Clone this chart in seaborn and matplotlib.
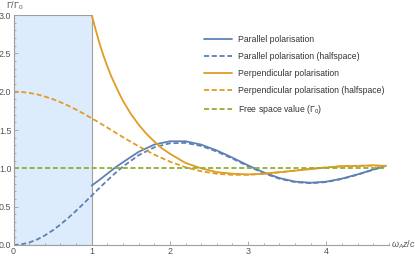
import matplotlib
matplotlib.use("Agg")
import matplotlib.pyplot as plt
import seaborn as sns
from matplotlib.patches import Rectangle
from matplotlib.ticker import MultipleLocator, FormatStrFormatter

# halfspace curves (perfect mirror)
x_half = [0.0, 0.1, 0.2, 0.3, 0.4, 0.5, 0.6, 0.7, 0.8, 0.9, 1.0, 1.1, 1.2, 1.3, 1.4,
          1.6, 1.8, 2.0, 2.2, 2.4, 2.6, 2.8, 3.0, 3.2, 3.4, 3.6, 3.8, 4.0, 4.2, 4.4,
          4.6, 4.76]
par_half = [0.000, 0.008, 0.032, 0.071, 0.124, 0.190, 0.267, 0.353, 0.446, 0.544,
            0.645, 0.745, 0.843, 0.937, 1.024, 1.171, 1.274, 1.327, 1.332, 1.292,
            1.219, 1.127, 1.028, 0.937, 0.865, 0.820, 0.806, 0.821, 0.861, 0.917,
            0.981, 1.031]
perp_half = [2.000, 1.996, 1.984, 1.965, 1.937, 1.904, 1.863, 1.817, 1.766, 1.711,
             1.653, 1.593, 1.531, 1.468, 1.406, 1.287, 1.179, 1.087, 1.014, 0.962,
             0.929, 0.915, 0.916, 0.929, 0.948, 0.971, 0.994, 1.013, 1.026, 1.034,
             1.035, 1.033]

# full curves, only outside the slab (x >= 1)
x_par = [1.0, 1.1, 1.2, 1.3, 1.4, 1.6, 1.8, 2.0, 2.2, 2.4, 2.6, 2.8, 3.0, 3.2,
         3.4, 3.6, 3.8, 4.0, 4.2, 4.4, 4.6, 4.76]
par_full = [0.775, 0.850, 0.930, 1.010, 1.080, 1.215, 1.310, 1.353, 1.353, 1.309,
            1.233, 1.139, 1.038, 0.946, 0.873, 0.827, 0.812, 0.826, 0.866, 0.921,
            0.985, 1.034]
x_perp = [1.0, 1.05, 1.1, 1.15, 1.2, 1.25, 1.3, 1.35, 1.4, 1.5, 1.6, 1.7, 1.8, 1.9,
          2.0, 2.2, 2.4, 2.6, 2.8, 3.0, 3.2, 3.4, 3.6, 3.8, 4.0, 4.2, 4.4, 4.6, 4.76]
perp_full = [3.00, 2.81, 2.63, 2.47, 2.33, 2.20, 2.09, 1.98, 1.88, 1.71, 1.57, 1.45,
             1.35, 1.26, 1.19, 1.07, 1.00, 0.95, 0.93, 0.92, 0.93, 0.95, 0.97, 0.99,
             1.01, 1.03, 1.03, 1.04, 1.03]

free_x = [0.0, 4.76]
free_y = [1.0, 1.0]

labels = ["Parallel polarisation", "Parallel polarisation (halfspace)",
          "Perpendicular polarisation", "Perpendicular polarisation (halfspace)",
          r"Free space value ($\Gamma_0$)"]

blue = "#5e81b5"
orange = "#e19c24"
green = "#8fb032"
grey = "#a0a0a0"
dash = (0, (2.8, 1.5))

sns.set_style("ticks")
plt.rcParams["font.family"] = ["Liberation Sans", "DejaVu Sans"]
plt.rcParams["mathtext.fontset"] = "custom"
plt.rcParams["mathtext.rm"] = "Liberation Sans"
plt.rcParams["mathtext.it"] = "Liberation Sans:italic"

fig = plt.figure(figsize=(4.15, 2.58), dpi=100)
ax = fig.add_axes([13.5 / 415, 13 / 258, 375.4 / 415, 230 / 258])

ax.add_patch(Rectangle((0, 0), 1, 3, facecolor="#ddecfc", edgecolor=grey, lw=0.8, zorder=0.5))

sns.lineplot(x=x_par, y=par_full, ax=ax, color=blue, lw=1.3, label=labels[0])
sns.lineplot(x=x_half, y=par_half, ax=ax, color=blue, lw=1.3, linestyle=dash, label=labels[1])
sns.lineplot(x=x_perp, y=perp_full, ax=ax, color=orange, lw=1.3, label=labels[2])
sns.lineplot(x=x_half, y=perp_half, ax=ax, color=orange, lw=1.3, linestyle=dash, label=labels[3])
sns.lineplot(x=free_x, y=free_y, ax=ax, color=green, lw=1.3, linestyle=dash, label=labels[4])

ax.set_xlim(0, 4.8)
ax.set_ylim(0, 3)
ax.set_xticks([0, 1, 2, 3, 4])
ax.xaxis.set_minor_locator(MultipleLocator(0.2))
ax.yaxis.set_major_locator(MultipleLocator(0.5))
ax.yaxis.set_minor_locator(MultipleLocator(0.1))
ax.yaxis.set_major_formatter(FormatStrFormatter("%.1f"))
ax.tick_params(which="both", direction="in", color=grey, labelcolor="#555555",
               labelsize=6.4, width=0.6, pad=1.5)
ax.tick_params(which="major", length=3)
ax.tick_params(which="minor", length=1.6)
ax.set_xlabel("")
ax.set_ylabel("")
for s in ["top", "right"]:
    ax.spines[s].set_visible(False)
for s in ["left", "bottom"]:
    ax.spines[s].set_color(grey)
    ax.spines[s].set_linewidth(0.8)

fig.text(6 / 415, 1 - 6 / 258, r"$\Gamma/\Gamma_0$", color="#555555", fontsize=6.5,
         ha="left", va="center")
fig.text(391 / 415, 13 / 258, r"$\omega_A z/c$", color="#555555", fontsize=6.5,
         ha="left", va="center")

ax.legend(loc="upper left", bbox_to_anchor=(204 / 415, 1 - 35.5 / 258),
          bbox_transform=fig.transFigure, frameon=False, fontsize=6.2,
          handlelength=3.2, handletextpad=0.7, labelspacing=0.92,
          borderpad=0, borderaxespad=0, labelcolor="#333333")

fig.savefig("out.png", dpi=100)
